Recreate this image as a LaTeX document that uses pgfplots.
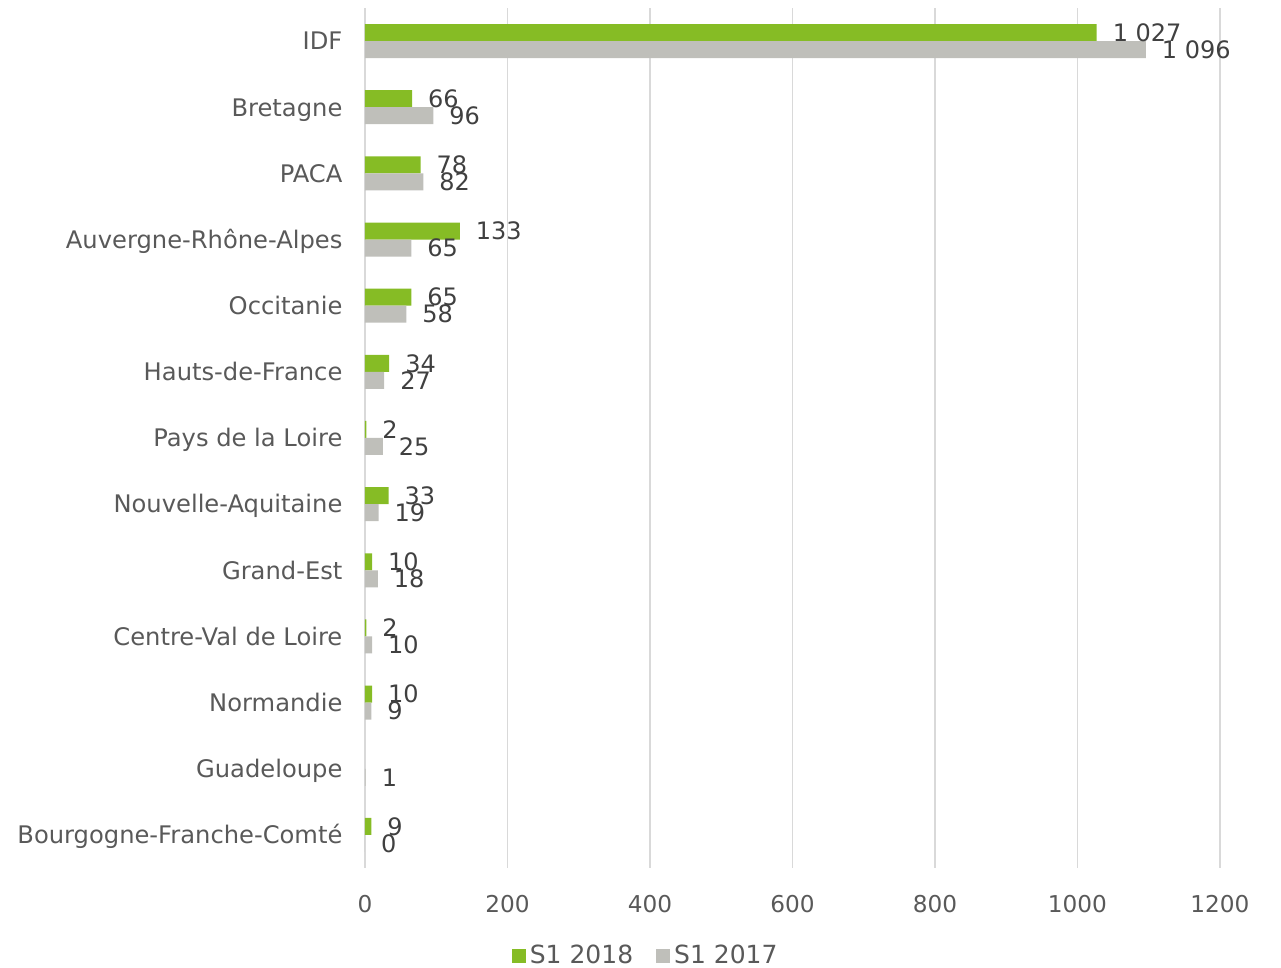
\documentclass[border=0pt]{standalone}
\usepackage{pgfplots}
\pgfplotsset{compat=1.18}
\usepackage{fontspec}
\setmainfont{DejaVu Sans}
\definecolor{green18}{HTML}{86BC25}
\definecolor{gray17}{HTML}{BFBFBA}
\definecolor{lbl}{HTML}{404040}
\definecolor{cat}{HTML}{595959}
\definecolor{gridc}{HTML}{D9D9D9}
\begin{document}
\begin{tikzpicture}
\begin{axis}[
  at={(0,0)}, anchor=south west,
  scale only axis, width=427.5pt, height=430pt,
  xmin=0, xmax=1200, ymin=-0.5, ymax=12.5,
  xbar, bar width=8.5pt,
  axis line style={draw=none},
  major tick style={draw=none},
  xmajorgrids, grid style={gridc, line width=0.75pt},
  xtick={0,200,...,1200},
  xticklabels={0,200,400,600,800,1000,1200},
  ytick={0,...,12},
  yticklabels={Bourgogne-Franche-Comté, Guadeloupe, Normandie, Centre-Val de Loire, Grand-Est, Nouvelle-Aquitaine, Pays de la Loire, Hauts-de-France, Occitanie, Auvergne-Rhône-Alpes, PACA, Bretagne, IDF},
  xticklabel style={font=\fontsize{11.6}{13}\selectfont, text=cat, yshift=-10pt},
  yticklabel style={font=\fontsize{12.1}{14}\selectfont, text=cat, anchor=base east, xshift=-3.5pt, yshift=-0.44em},
  nodes near coords,
  nodes near coords style={font=\fontsize{12}{13}\selectfont, text=lbl, anchor=west, xshift=4.5pt},
  /pgf/number format/assume math mode=true,
  /pgf/number format/1000 sep={\ },
  legend image code/.code={\fill[#1] (0pt,-3.5pt) rectangle (7pt,3.5pt);},
  legend style={at={(0.3295,-0.1023)}, anchor=center, draw=none, fill=none,
    legend columns=-1, font=\fontsize{12.5}{14}\selectfont, text=cat,
    /tikz/every even column/.append style={column sep=9.5pt}},
]
\addplot[fill=green18, draw=none, bar shift=4.25pt] coordinates {
  (1027,12) (66,11) (78,10) (133,9) (65,8) (34,7) (2,6) (33,5) (10,4) (2,3) (10,2) (9,0)
};
\addlegendentry{S1 2018}
\addplot[fill=gray17, draw=none, bar shift=-4.25pt] coordinates {
  (1096,12) (96,11) (82,10) (65,9) (58,8) (27,7) (25,6) (19,5) (18,4) (10,3) (9,2) (1,1) (0,0)
};
\addlegendentry{S1 2017}
\end{axis}
\pgfresetboundingbox
\path[use as bounding box] (-182.5pt,-50pt) rectangle (458pt,434pt);
\end{tikzpicture}
\end{document}
